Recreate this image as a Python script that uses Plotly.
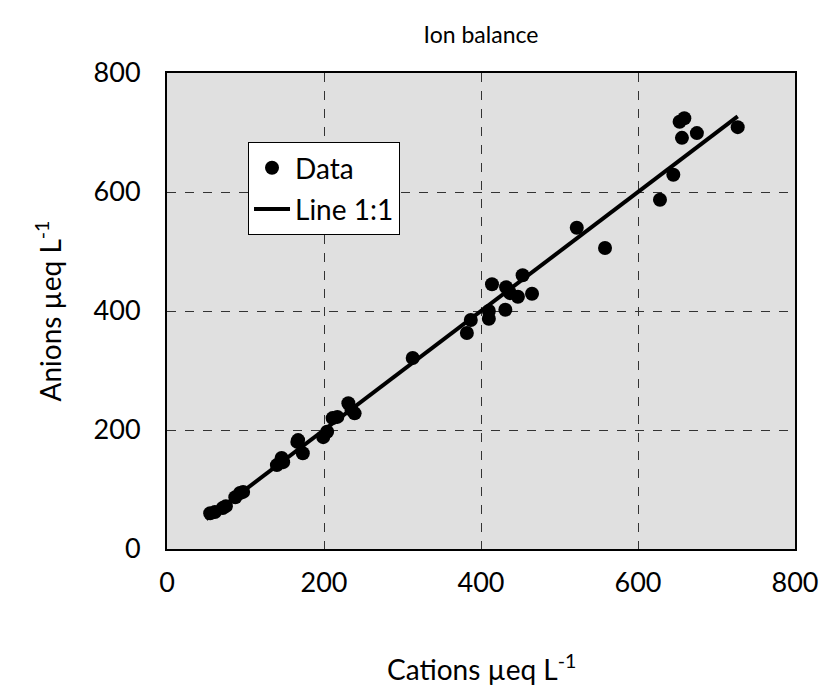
import plotly.graph_objects as go

# Data
cations = [55, 61, 71, 75, 87, 93, 97, 140, 146, 148, 167, 173, 166, 199, 204, 211, 217,
           231, 239, 235, 313, 382, 387, 410, 414, 431, 432, 437, 447, 453, 465, 410,
           522, 558, 628, 645, 656, 653, 659, 675, 727]
anions = [60, 62, 69, 72, 87, 94, 96, 141, 153, 146, 183, 161, 180, 188, 197, 220, 222,
          245, 228, 234, 321, 363, 385, 387, 445, 402, 440, 430, 424, 460, 429, 400,
          540, 506, 587, 629, 691, 718, 724, 699, 709]
line_x = [50, 727]
line_y = [50, 727]
tick_vals = [0, 200, 400, 600, 800]

font_family = "Lato"

W, H = 822, 686
L, R, T, B = 167, 27, 73, 137
plot_h = H - T - B

fig = go.Figure()
fig.add_trace(go.Scatter(x=cations, y=anions, mode="markers", name="Data",
                         legendgroup="a",
                         marker=dict(color="black", size=14)))
fig.add_trace(go.Scatter(x=line_x, y=line_y, mode="lines", name="Line 1:1",
                         legendgroup="b",
                         line=dict(color="black", width=4)))

axis_common = dict(range=[0, 800], tickvals=tick_vals, showgrid=True, gridcolor="#333333",
                   griddash="dash", gridwidth=1, showline=True, linecolor="black",
                   linewidth=2, mirror=True, zeroline=False, ticks="",
                   tickfont=dict(size=27, color="black", family=font_family))

fig.update_xaxes(**axis_common, ticklabelstandoff=9)
fig.update_yaxes(**axis_common, ticklabelstandoff=19,
                 title=dict(text="Anions µeq L<sup>-1</sup>", standoff=24,
                            font=dict(size=28, color="black", family=font_family)))

fig.add_annotation(text="Cations µeq L<sup>-1</sup>", xref="paper", yref="paper",
                   x=0.5, y=-(667 - (H - B)) / plot_h, xanchor="center", yanchor="middle",
                   showarrow=False,
                   font=dict(size=28, color="black", family=font_family))

fig.update_layout(
    width=W, height=H,
    margin=dict(l=L, r=R, t=T, b=B, autoexpand=False),
    paper_bgcolor="white", plot_bgcolor="#e0e0e0",
    title=dict(text="Ion balance", x=(L + (W - R)) / 2 / W, xanchor="center",
               y=1 - 35 / H, yanchor="middle",
               font=dict(size=23, color="black", family=font_family)),
    legend=dict(x=0.129, y=0.855, xanchor="left", yanchor="top",
                bgcolor="white", bordercolor="black", borderwidth=1,
                font=dict(size=28, color="black", family=font_family),
                itemwidth=36, traceorder="grouped", tracegroupgap=2),
    showlegend=True,
)

fig.write_html(
    "out.html",
    config={"displayModeBar": False},
    post_script="document.body.style.margin='0';document.body.style.overflow='hidden';",
)
